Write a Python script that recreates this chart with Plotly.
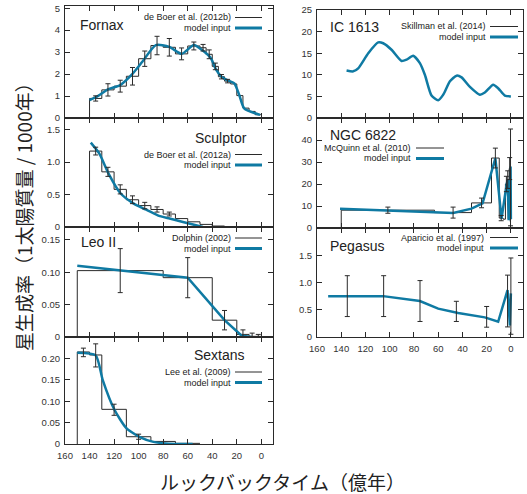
import plotly.graph_objects as go

# ---------------- data ----------------
TICK_X = [160, 140, 120, 100, 80, 60, 40, 20, 0]

# Fornax (de Boer et al. 2012b)
FORNAX_EDGES = [140, 130, 120, 110, 100, 90, 80, 70, 60, 50, 45, 40, 35, 30, 25, 20, 15, 10, 5, 0]
FORNAX_SFR = [0.89, 1.28, 1.45, 1.9, 2.7, 3.3, 3.22, 2.92, 3.28, 3.2, 2.9, 2.35, 1.88, 1.68, 1.55, 1.02, 0.45, 0.3, 0.15]
FORNAX_ERR_X = [135, 125, 115, 105, 95, 85, 75, 65, 55, 47.5, 42.5, 37.5, 32.5, 27.5]
FORNAX_ERR_Y = [0.89, 1.28, 1.45, 1.9, 2.7, 3.3, 3.22, 2.92, 3.28, 3.2, 2.9, 2.35, 1.88, 1.68]
FORNAX_ERR = [0.12, 0.28, 0.27, 0.4, 0.35, 0.42, 0.4, 0.27, 0.18, 0.15, 0.2, 0.15, 0.1, 0.08]
FORNAX_MODEL_X = [140, 134, 125, 115, 106, 97, 86, 75, 65, 55, 48, 41, 37, 32.5, 27, 22, 18, 14, 1]
FORNAX_MODEL_Y = [0.82, 0.97, 1.3, 1.5, 1.95, 2.56, 3.32, 3.24, 2.92, 3.32, 3.08, 2.71, 2.21, 1.88, 1.7, 1.58, 1.05, 0.44, 0.14]

# Sculptor (de Boer et al. 2012a)
SCULPTOR_EDGES = [140, 130, 120, 110, 100, 90, 80, 70, 60, 50, 40, 30]
SCULPTOR_SFR = [1.17, 0.85, 0.58, 0.42, 0.33, 0.27, 0.2, 0.13, 0.08, 0.04, 0.015]
SCULPTOR_ERR_X = [135, 125, 115, 105, 95, 85, 75]
SCULPTOR_ERR_Y = [1.17, 0.85, 0.58, 0.42, 0.33, 0.27, 0.2]
SCULPTOR_ERR = [0.06, 0.07, 0.07, 0.06, 0.05, 0.04, 0.03]
SCULPTOR_MODEL_X = [139, 132, 124.4, 114.8, 104, 94.4, 84.4, 74.8, 63.9, 47.6]
SCULPTOR_MODEL_Y = [1.30, 1.13, 0.82, 0.52, 0.36, 0.27, 0.18, 0.13, 0.077, 0.0]

# Leo II (Dolphin 2002)
LEO_EDGES = [150, 80, 40, 20, 10, 0]
LEO_SFR = [0.1026, 0.0917, 0.026, 0.004, 0.001]
LEO_ERR_X = [115, 60, 30, 15, 7.5, 2.5]
LEO_ERR_Y = [0.1026, 0.0917, 0.026, 0.004, 0.002, 0.001]
LEO_ERR = [0.034, 0.031, 0.015, 0.007, 0.004, 0.003]
LEO_MODEL_X = [150, 60, 30, 16, 8]
LEO_MODEL_Y = [0.110, 0.0917, 0.026, 0.002, 0.0]

# Sextans (Lee et al. 2009)
SEXTANS_EDGES = [150, 140, 130, 110, 90, 70, 50]
SEXTANS_SFR = [0.215, 0.208, 0.081, 0.017, 0.006, 0.0015]
SEXTANS_ERR_X = [145, 135, 120, 100]
SEXTANS_ERR_Y = [0.214, 0.207, 0.08, 0.017]
SEXTANS_ERR = [0.01, 0.027, 0.013, 0.006]
SEXTANS_MODEL_X = [150, 135, 129.3, 119.7, 110, 99, 88, 69, 56]
SEXTANS_MODEL_Y = [0.213, 0.207, 0.15, 0.08, 0.037, 0.016, 0.005, 0.0, 0.0]

# IC 1613 (Skillman et al. 2014)
IC_MODEL_X = [135.6, 130.1, 126, 117.7, 109.5, 105.4, 98.5, 90.2, 86.1, 80.6, 75.1, 71, 65.5, 60,
              55.8, 50.3, 44.8, 40.7, 33.8, 25.6, 21.5, 14.6, 10.5, 5, 0]
IC_MODEL_Y = [11.0, 10.8, 11.5, 15, 17.5, 17.3, 15.8, 13.2, 13.5, 14.4, 12.7, 10, 5.2, 4.1,
              5.4, 8.5, 9.8, 9.4, 7.2, 5.4, 5.9, 7.7, 6.9, 5.2, 5.0]

# NGC 6822 (McQuinn et al. 2010)
NGC_EDGES = [140, 63, 32.5, 16, 9.6, 6.4, 4.5, 3.0, 2.2, 1.4, 0.6, 0]
NGC_SFR = [8.1, 7.0, 11.4, 31.8, 4.5, 4.0, 20, 22, 4, 27, 3]
NGC_ERR_X = [101.5, 47.7, 24.2, 12.8, 8.0, 3.7, 2.6, 1.0, 0.3]
NGC_ERR_Y = [8.1, 7.0, 11.4, 31.8, 4.5, 20, 22, 27, 23]
NGC_ERR = [1.4, 2.5, 2.2, 4.5, 1.2, 3.5, 4, 5, 22]
NGC_MODEL_X = [141, 102.6, 62.7, 47.6, 32.5, 23.4, 12.8, 7.7, 3.6, 2.7, 1.8, 0.8, 0.25, 0]
NGC_MODEL_Y = [8.8, 8.1, 7.3, 6.8, 8.8, 11.2, 31.7, 4.3, 19.5, 22, 3.5, 20, 27.9, 4]

# Pegasus (Aparicio et al. 1997)
PEG_ERR_X = [135, 105, 75, 45, 20, 2.75, 0]
PEG_ERR_Y = [0.75, 0.75, 0.66, 0.47, 0.37, 0.66, 0.75]
PEG_ERR = [0.375, 0.375, 0.375, 0.185, 0.19, 0.475, 0.7]
PEG_MODEL_X = [150.8, 105.4, 75.1, 60, 43.5, 21.5, 10.5, 2.75, 0.8, 0]
PEG_MODEL_Y = [0.75, 0.75, 0.66, 0.52, 0.44, 0.36, 0.28, 0.86, 0.21, 0.8]

# ---------------- styling ----------------
W, H = 527, 494
BLUE = "#0f7aa3"
BLACK = "#2a2a2a"
FONT = "Liberation Sans, Arial, Helvetica, sans-serif"
JFONT = "Noto Sans CJK JP, sans-serif"


def fx(px):
    return px / W


def fy(py):
    return 1 - py / H


LEFT = (65, 273)
RIGHT = (317, 523)

panels = [
    dict(n=1, col=LEFT, top=6, bot=118, yr=[0, 5.1], yt=[0, 1, 2, 3, 4, 5], ytt=["0", "1", "2", "3", "4", "5"], xr=[160, -9.5], xl=False),
    dict(n=2, col=LEFT, top=118, bot=227, yr=[0, 1.68], yt=[0, 0.5, 1.0, 1.5], ytt=["0", "0.5", "1.0", "1.5"], xr=[160, -9.5], xl=False),
    dict(n=3, col=LEFT, top=227, bot=337, yr=[0, 0.17], yt=[0, 0.05, 0.10, 0.15], ytt=["0", "0.05", "0.10", "0.15"], xr=[160, -9.5], xl=False),
    dict(n=4, col=LEFT, top=337, bot=444, yr=[0, 0.25], yt=[0, 0.05, 0.10, 0.15, 0.20], ytt=["0", "0.05", "0.10", "0.15", "0.20"], xr=[160, -9.5], xl=True),
    dict(n=5, col=RIGHT, top=10, bot=118, yr=[0, 25], yt=[0, 5, 10, 15, 20, 25], ytt=["0", "5", "10", "15", "20", "25"], xr=[160, -10], xl=False),
    dict(n=6, col=RIGHT, top=118, bot=228, yr=[0, 50], yt=[0, 10, 20, 30, 40], ytt=["0", "10", "20", "30", "40"], xr=[160, -10], xl=False),
    dict(n=7, col=RIGHT, top=228, bot=337, yr=[0, 2.0], yt=[0, 0.5, 1.0, 1.5], ytt=["0", "0.5", "1.0", "1.5"], xr=[160, -10], xl=True),
]

fig = go.Figure()


def ax(n):
    return ("x" if n == 1 else f"x{n}"), ("y" if n == 1 else f"y{n}")


def add_hist(n, edges, vals):
    xa, ya = ax(n)
    xs = [edges[0]] + list(edges)
    ys = [0] + list(vals) + [vals[-1]]
    fig.add_trace(go.Scatter(x=xs, y=ys, mode="lines", line=dict(color=BLACK, width=1, shape="hv"),
                             xaxis=xa, yaxis=ya, showlegend=False, hoverinfo="skip"))


def add_err(n, xs, ys, es):
    xa, ya = ax(n)
    fig.add_trace(go.Scatter(x=xs, y=ys, mode="markers", marker=dict(size=1, color=BLACK, opacity=0),
                             error_y=dict(type="data", array=es, visible=True, color=BLACK, thickness=1, width=2.5),
                             xaxis=xa, yaxis=ya, showlegend=False, hoverinfo="skip"))


def add_model(n, xs, ys, smooth=True):
    xa, ya = ax(n)
    fig.add_trace(go.Scatter(x=xs, y=ys, mode="lines",
                             line=dict(color=BLUE, width=2.5, shape="spline" if smooth else "linear", smoothing=0.6),
                             xaxis=xa, yaxis=ya, showlegend=False, hoverinfo="skip"))


add_hist(1, FORNAX_EDGES, FORNAX_SFR)
add_model(1, FORNAX_MODEL_X, FORNAX_MODEL_Y)
add_err(1, FORNAX_ERR_X, FORNAX_ERR_Y, FORNAX_ERR)

add_hist(2, SCULPTOR_EDGES, SCULPTOR_SFR)
add_model(2, SCULPTOR_MODEL_X, SCULPTOR_MODEL_Y)
add_err(2, SCULPTOR_ERR_X, SCULPTOR_ERR_Y, SCULPTOR_ERR)

add_hist(3, LEO_EDGES, LEO_SFR)
add_model(3, LEO_MODEL_X, LEO_MODEL_Y, smooth=False)
add_err(3, LEO_ERR_X, LEO_ERR_Y, LEO_ERR)

add_hist(4, SEXTANS_EDGES, SEXTANS_SFR)
add_model(4, SEXTANS_MODEL_X, SEXTANS_MODEL_Y)
add_err(4, SEXTANS_ERR_X, SEXTANS_ERR_Y, SEXTANS_ERR)

add_model(5, IC_MODEL_X, IC_MODEL_Y)

add_hist(6, NGC_EDGES, NGC_SFR)
add_model(6, NGC_MODEL_X, NGC_MODEL_Y, smooth=False)
add_err(6, NGC_ERR_X, NGC_ERR_Y, NGC_ERR)

add_model(7, PEG_MODEL_X, PEG_MODEL_Y, smooth=False)
add_err(7, PEG_ERR_X, PEG_ERR_Y, PEG_ERR)

layout = dict(
    width=W, height=H, autosize=False,
    margin=dict(l=0, r=0, t=0, b=0),
    paper_bgcolor="white", plot_bgcolor="white",
    showlegend=False,
)
for p in panels:
    n = p["n"]
    xk = "xaxis" if n == 1 else f"xaxis{n}"
    yk = "yaxis" if n == 1 else f"yaxis{n}"
    xa, ya = ax(n)
    layout[xk] = dict(
        domain=[fx(p["col"][0]), fx(p["col"][1])], anchor=ya, range=p["xr"],
        tickvals=TICK_X, ticktext=[str(v) for v in TICK_X], showticklabels=p["xl"],
        ticks="inside", ticklen=5, tickcolor=BLACK, tickwidth=1, ticklabelstandoff=3,
        showline=True, linecolor=BLACK, linewidth=1, mirror="ticks",
        showgrid=False, zeroline=False, automargin=False,
        tickfont=dict(family=FONT, size=9.5, color="#333"),
    )
    layout[yk] = dict(
        domain=[fy(p["bot"]), fy(p["top"])], anchor=xa, range=p["yr"],
        tickvals=p["yt"], ticktext=p["ytt"],
        ticks="inside", ticklen=5, tickcolor=BLACK, tickwidth=1, ticklabelstandoff=2,
        showline=True, linecolor=BLACK, linewidth=1, mirror="ticks",
        showgrid=False, zeroline=False, automargin=False,
        tickfont=dict(family=FONT, size=9.5, color="#333"),
    )

annotations = []
shapes = []


def title(text, px, py, anchor="left"):
    annotations.append(dict(text=text, x=fx(px), y=fy(py), xref="paper", yref="paper",
                            xanchor=anchor, yanchor="middle", showarrow=False,
                            font=dict(family=FONT, size=14, color="#222")))


def legend(label, right_px, py, x0, x1, color, width):
    annotations.append(dict(text=label, x=fx(right_px), y=fy(py), xref="paper", yref="paper",
                            xanchor="right", yanchor="middle", showarrow=False, borderpad=0,
                            font=dict(family=FONT, size=9, color="#222")))
    shapes.append(dict(type="line", xref="paper", yref="paper", x0=fx(x0), x1=fx(x1),
                       y0=fy(py), y1=fy(py), line=dict(color=color, width=width)))


def legend_pair(ref, right_px, py1, x0, x1):
    legend(ref, right_px, py1, x0, x1, BLACK, 1)
    legend("model input", right_px, py1 + 10.5, x0, x1, BLUE, 3)


title("Fornax", 78, 25)
legend_pair("de Boer et al. (2012b)", 232, 17.5, 235, 262)

title("Sculptor", 249, 138, "right")
legend_pair("de Boer et al. (2012a)", 232, 154.5, 235, 262)

title("Leo II", 79, 242)
legend_pair("Dolphin (2002)", 232, 238, 235, 262)

title("Sextans", 247, 355, "right")
legend_pair("Lee et al. (2009)", 232, 372, 235, 262)

title("IC 1613", 328, 27)
legend_pair("Skillman et al. (2014)", 487, 26.5, 490, 518)

title("NGC 6822", 328, 135)
legend_pair("McQuinn et al. (2010)", 412, 148, 416, 444)

title("Pegasus", 328, 246)
legend_pair("Aparicio et al. (1997)", 485, 237.5, 490, 518)

annotations.append(dict(text="星生成率（1太陽質量 / 1000年）", x=fx(23), y=fy(212), xref="paper", yref="paper",
                        textangle=-90, showarrow=False, xanchor="center", yanchor="middle",
                        font=dict(family=JFONT, size=19, color="#222")))
annotations.append(dict(text="ルックバックタイム（億年）", x=fx(282), y=fy(481), xref="paper", yref="paper",
                        showarrow=False, xanchor="center", yanchor="middle",
                        font=dict(family=JFONT, size=19, color="#222")))

layout["annotations"] = annotations
layout["shapes"] = shapes
fig.update_layout(**layout)

fig.write_html("out.html", config={"displayModeBar": False},
               post_script="document.body.style.margin='0';document.body.style.overflow='hidden';")
